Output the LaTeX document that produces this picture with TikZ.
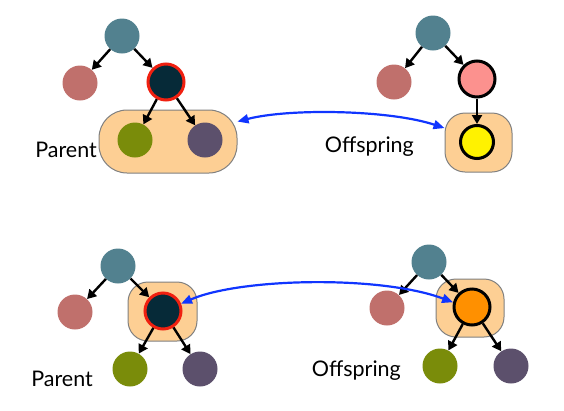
\documentclass[tikz,border=0pt]{standalone}
\usepackage{fontspec}
\setmainfont{Lato}
\usepackage{xcolor}
\usepackage{tikz}
\usetikzlibrary{arrows.meta,positioning}
\definecolor{rootcol}{HTML}{52818F}
\definecolor{rosecol}{HTML}{C0706C}
\definecolor{darkcol}{HTML}{062A38}
\definecolor{olivecol}{HTML}{7A8C0A}
\definecolor{plumcol}{HTML}{5C506C}
\definecolor{pinkcol}{HTML}{FC918E}
\definecolor{orangecol}{HTML}{FF9000}
\definecolor{blobcol}{HTML}{FDCF94}
\definecolor{swapcol}{HTML}{1035FF}
\definecolor{redring}{HTML}{F02010}

\begin{document}
\begin{tikzpicture}[x=1pt,y=-1pt,
	ball/.style={circle,minimum size=35pt,inner sep=0pt},
	ringed/.style={circle,minimum size=36pt,inner sep=0pt,line width=3pt},
	blob/.style={draw=gray,fill=blobcol,line width=1pt,rounded corners=#1,inner sep=0pt},
	tarrow/.style={-{Triangle[length=9pt,width=10pt]},line width=2.4pt},
	swaparrow/.style={{Triangle[length=11pt,width=9pt]}-{Triangle[length=11pt,width=9pt]},line width=2.2pt,draw=swapcol},
	lbl/.style={font=\fontsize{21.5}{25}\selectfont,inner sep=0pt}]
	\useasboundingbox (0,0) rectangle (564,410);
	% top: parent pair vs single offspring
	\node[blob=28pt,minimum width=138pt,minimum height=63pt] (famTL) at (168,141.5) {};
	\node[blob=20pt,minimum width=67pt,minimum height=59pt] (famTR) at (478.5,142.5) {};
	\node[ball,fill=rootcol] (rootTL) at (122,36) {};
	\node[ball,fill=rosecol] (leftTL) at (80,83) {};
	\node[ringed,fill=darkcol,draw=redring] (midTL) at (166,82) {};
	\node[ball,fill=olivecol] (greenTL) at (135,140) {};
	\node[ball,fill=plumcol] (plumTL) at (205,140) {};
	\node[lbl,anchor=east] (parTL) at (97,150) {Parent};
	\draw[tarrow] (rootTL) -- (leftTL);
	\draw[tarrow] (rootTL) -- (midTL);
	\draw[tarrow] (midTL) -- (greenTL);
	\draw[tarrow] (midTL) -- (plumTL);
	\node[ball,fill=rootcol] (rootTR) at (433,33) {};
	\node[ball,fill=rosecol] (leftTR) at (394,82) {};
	\node[ringed,fill=pinkcol,draw=black] (midTR) at (477,79) {};
	\node[ringed,minimum size=33pt,fill=yellow,draw=black] (yellowTR) at (477,142) {};
	\node[lbl,anchor=east] (offTR) at (414,147) {Offspring};
	\draw[tarrow] (rootTR) -- (leftTR);
	\draw[tarrow] (rootTR) -- (midTR);
	\draw[tarrow] (midTR) -- (yellowTR);
	\draw[swaparrow] (famTL.16) .. controls (290,108) and (390,110) .. (famTR.157);
	% bottom: single parent vs offspring with children
	\node[blob=20pt,minimum width=69pt,minimum height=59pt] (famBL) at (162.5,311.5) {};
	\node[blob=20pt,minimum width=68pt,minimum height=58pt] (famBR) at (470,308) {};
	\node[ball,fill=rootcol] (rootBL) at (118,266) {};
	\node[ball,fill=rosecol] (leftBL) at (75,312) {};
	\node[ringed,fill=darkcol,draw=redring] (midBL) at (163,311) {};
	\node[ball,fill=olivecol] (greenBL) at (130,369) {};
	\node[ball,fill=plumcol] (plumBL) at (200,369) {};
	\node[lbl,anchor=east] (parBL) at (93,379) {Parent};
	\draw[tarrow] (rootBL) -- (leftBL);
	\draw[tarrow] (rootBL) -- (midBL);
	\draw[tarrow] (midBL) -- (greenBL);
	\draw[tarrow] (midBL) -- (plumBL);
	\node[ball,fill=rootcol] (rootBR) at (429,262) {};
	\node[ball,fill=rosecol] (leftBR) at (387,308) {};
	\node[ringed,fill=orangecol,draw=black] (midBR) at (472,307) {};
	\node[ball,fill=olivecol] (greenBR) at (440,366) {};
	\node[ball,fill=plumcol] (plumBR) at (511,366) {};
	\node[lbl,anchor=east] (offBR) at (401,371) {Offspring};
	\draw[tarrow] (rootBR) -- (leftBR);
	\draw[tarrow] (rootBR) -- (midBR);
	\draw[tarrow] (midBR) -- (greenBR);
	\draw[tarrow] (midBR) -- (plumBR);
	\draw[swaparrow] (midBL.22) .. controls (240,278) and (380,275) .. (midBR.166);
\end{tikzpicture}
\end{document}
